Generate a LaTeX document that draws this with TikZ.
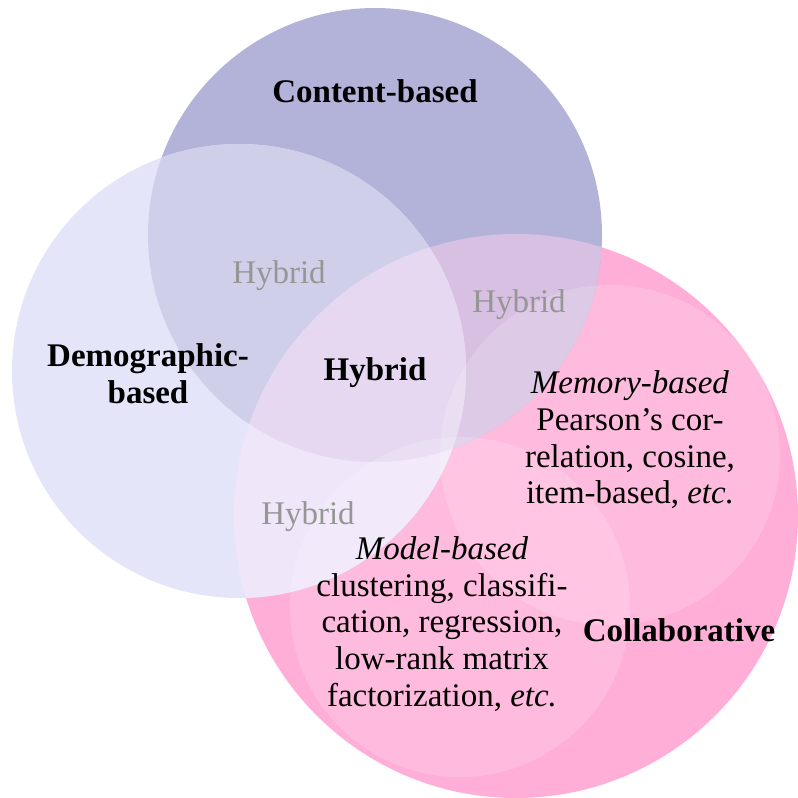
\documentclass[tikz,border=0pt]{standalone}
\usepackage{fontspec}
\setmainfont{Liberation Serif}
\definecolor{cContent}{RGB}{179,179,218}
\definecolor{cDemo}{RGB}{229,229,250}
\definecolor{cCollab}{RGB}{255,175,215}
\definecolor{cCD}{RGB}{207,207,234}
\definecolor{cCC}{RGB}{215,192,226}
\definecolor{cDC}{RGB}{240,230,250}
\definecolor{cAll}{RGB}{229,216,240}
\definecolor{cHyb}{RGB}{150,150,148}
\def\cirContent{(375,235) circle (227pt)}
\def\cirDemo{(239,371) circle (227pt)}
\def\cirCollab{(516,516) circle (282pt)}
\def\cirMemory{(610,455) circle (170pt)}
\def\cirModel{(460,607) circle (170pt)}
\tikzset{
  txt/.style={font=\fontsize{33}{36.7}\selectfont, align=center, inner sep=0pt, text=black},
  boldtxt/.style={txt, font=\fontsize{33}{36.7}\selectfont\bfseries},
  hyb/.style={txt, text=cHyb},
  overlay/.style={fill=white, fill opacity=0.16}
}
\begin{document}
\begin{tikzpicture}[x=1pt,y=-1pt]
\useasboundingbox (0,0) rectangle (798,798);
% base circles
\fill[cCollab] \cirCollab;
\fill[cContent] \cirContent;
\fill[cDemo] \cirDemo;
% pairwise intersections
\begin{scope}\clip \cirContent; \fill[cCD] \cirDemo; \end{scope}
\begin{scope}\clip \cirContent; \fill[cCC] \cirCollab; \end{scope}
\begin{scope}\clip \cirDemo; \fill[cDC] \cirCollab; \end{scope}
\begin{scope}\clip \cirContent; \clip \cirDemo; \fill[cAll] \cirCollab; \end{scope}
% inner sub-circles of collaborative
\fill[overlay] \cirMemory;
\fill[overlay] \cirModel;
% labels
\node[boldtxt] (content) at (375,91) {Content-based};
\node[boldtxt] (demo) at (148,374) {Demographic-\\based};
\node[boldtxt] (center) at (375,373) {Hybrid};
\node[boldtxt] (collab) at (679,630) {Collaborative};
\node[hyb] (h1) at (279,276) {Hybrid};
\node[hyb] (h2) at (519,305) {Hybrid};
\node[hyb] (h3) at (308,517) {Hybrid};
\node[txt] (memory) at (630,440) {\textit{Memory-based}\\Pearson’s cor-\\relation, cosine,\\item-based, \textit{etc.}};
\node[txt] (model) at (442,624) {\textit{Model-based}\\clustering, classifi-\\cation, regression,\\low-rank matrix\\factorization, \textit{etc.}};
\end{tikzpicture}
\end{document}
